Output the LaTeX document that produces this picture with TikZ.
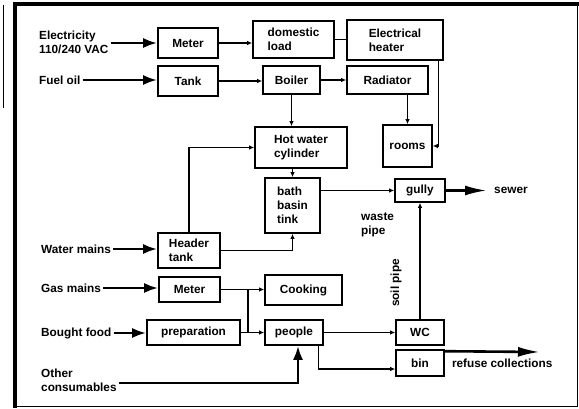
\documentclass[tikz,border=0pt]{standalone}
\usepackage{fontspec}
\setmainfont{Liberation Sans}
\usetikzlibrary{arrows.meta, positioning}

\begin{document}
\begin{tikzpicture}[
    x=1pt, y=-1pt,
    font=\fontsize{11.8}{14}\selectfont\bfseries,
    box/.style={
        rectangle,
        draw,
        line width=1.6pt,
        align=left,
        inner sep=2pt
    },
    tag/.style={align=left, inner sep=2pt},
    flowArrow/.style={-{Latex[length=5pt,width=4.5pt]}, line width=1.3pt},
    plainLine/.style={line width=1.3pt},
    feedArrow/.style={-{Latex[length=14pt,width=10pt]}, line width=2.6pt},
    outArrow/.style={-{Latex[length=22pt,width=10pt]}, line width=2.6pt}
]
    \useasboundingbox (0,0) rectangle (579,408);

    % Frame
    \draw[line width=4pt] (13,4) -- (579,4);
    \draw[line width=4pt] (15,2) -- (15,408);
    \draw[line width=0.8pt] (577,4) -- (577,406) -- (15,406);
    \draw[line width=1pt] (3,5) -- (3,108);

    % Energy (top rows)
    \node[box, minimum width=60, minimum height=30] (meterE) at (188,43) {Meter};
    \node[box, minimum width=81, minimum height=37] (load) at (293.5,39.5) {domestic\\load};
    \node[box, minimum width=96, minimum height=40] (heater) at (395,40) {Electrical\\heater};
    \node[box, minimum width=60, minimum height=30] (tank) at (188,81) {Tank};
    \node[box, minimum width=57, minimum height=28] (boiler) at (291.5,80) {Boiler};
    \node[box, minimum width=81, minimum height=28] (radiator) at (387.5,80) {Radiator};
    \node[box, minimum width=92, minimum height=41] (cylinder) at (301,147.5) {Hot water\\cylinder};
    \node[box, minimum width=49, minimum height=42] (rooms) at (407.5,146) {rooms};

    % Water
    \node[box, minimum width=55, minimum height=55] (bath) at (292.5,205.5) {bath\\basin\\tink};
    \node[box, minimum width=50, minimum height=23] (gully) at (420,190.5) {gully};
    \node[box, minimum width=62, minimum height=35] (header) at (189,250.5) {Header\\tank};

    % Gas and food
    \node[box, minimum width=61, minimum height=25] (meterG) at (189.5,289.5) {Meter};
    \node[box, minimum width=77, minimum height=30] (cooking) at (303.5,290) {Cooking};
    \node[box, minimum width=93, minimum height=25] (prep) at (193.5,332.5) {preparation};
    \node[box, minimum width=58, minimum height=25] (people) at (294,332.5) {people};
    \node[box, minimum width=48, minimum height=25] (wc) at (420,332.5) {WC};
    \node[box, minimum width=48, minimum height=26] (bin) at (420,363) {bin};

    % Inputs
    \node[tag, anchor=west] (elec) at (37,42) {Electricity\\110/240 VAC};
    \node[tag, anchor=west] (fuel) at (37,80) {Fuel oil};
    \node[tag, anchor=west] (water) at (39,249) {Water mains};
    \node[tag, anchor=west] (gas) at (39,288) {Gas mains};
    \node[tag, anchor=west] (food) at (39,333) {Bought food};
    \node[tag, anchor=west] (other) at (39,380) {Other\\consumables};

    % Outputs
    \coordinate (sewerEnd) at (487,190.5);
    \coordinate (refuseEnd) at (540,352);
    \node[tag, right=5pt of sewerEnd] (sewer) {sewer};
    \node[tag, right=5pt of bin.east] (refuse) {refuse collections};
    \node[tag, anchor=west] (waste) at (359,224.5) {waste\\pipe};
    \node[tag, rotate=90] (soil) at (396,283) {soil pipe};

    % Energy flows
    \draw[feedArrow] (elec.east |- meterE.west) -- (meterE.west);
    \draw[feedArrow] (fuel.east) -- (fuel.east -| tank.west);
    \draw[flowArrow] (meterE.east) -- (meterE.east -| load.west);
    \draw[plainLine] (load.east) -- (load.east -| heater.west);
    \draw[flowArrow] (tank.east) -- (tank.east -| boiler.west);
    \draw[flowArrow] (boiler.east) -- (boiler.east -| radiator.west);
    \draw[flowArrow] (boiler.south) -- (boiler.south |- cylinder.north);
    \draw[flowArrow] (rooms.north |- radiator.south) -- (rooms.north);
    \draw[flowArrow] ([xshift=-5pt]heater.south east) |- (rooms.east);

    % Water flows
    \draw[feedArrow] (water.east) -- (water.east -| header.west);
    \draw[flowArrow] (header.north) |- (cylinder.west);
    \draw[flowArrow] (header.east) -| (bath.south);
    \draw[flowArrow] (bath.north |- cylinder.south) -- (bath.north);
    \draw[flowArrow] (bath.east |- gully.west) -- (gully.west);
    \draw[outArrow] (gully.east) -- (sewerEnd);
    \draw[flowArrow] (wc.north) -- (gully.south);

    % Gas and food flows
    \coordinate (split) at (248,289.5);
    \draw[feedArrow] (gas.east) -- (gas.east -| meterG.west);
    \draw[flowArrow] (meterG.east) -- (meterG.east -| cooking.west);
    \draw[plainLine] (split) -- (split |- people.west);
    \draw[feedArrow] (food.east) -- (food.east -| prep.west);
    \draw[flowArrow] (prep.east) -- (people.west);
    \draw[feedArrow] ([yshift=-3pt]other.east) -| ([xshift=4pt]people.south);
    \draw[flowArrow] (people.east) -- (wc.west);
    \draw[flowArrow] ([xshift=-5pt]people.south east) |- ([yshift=-6pt]bin.west);
    \draw[outArrow] ([yshift=-2pt]bin.north east) -- (refuseEnd);
\end{tikzpicture}
\end{document}
